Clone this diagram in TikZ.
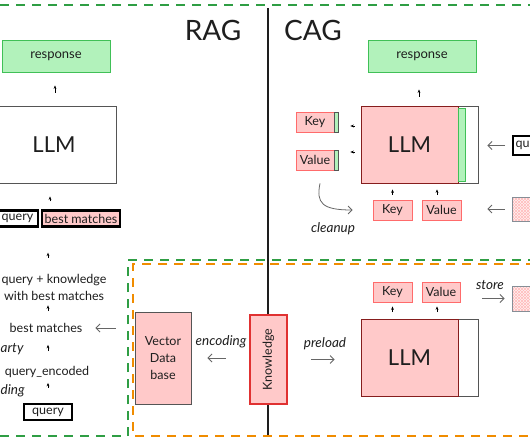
\documentclass[tikz,border=0pt]{standalone}
\usepackage{fontspec}
\setmainfont{Lato}
\usetikzlibrary{arrows.meta,patterns,calc}
\definecolor{pinkfill}{HTML}{FFC9C9}
\definecolor{redline}{HTML}{FF6B6B}
\definecolor{darkred}{HTML}{E03131}
\definecolor{greenfill}{HTML}{B2F2BB}
\definecolor{greenline}{HTML}{40C057}
\definecolor{dashgreen}{HTML}{2F9E44}
\definecolor{dashorange}{HTML}{F08C00}
\definecolor{boxgray}{HTML}{555555}
\definecolor{inkgray}{HTML}{1E1E1E}
\definecolor{arrowgray}{HTML}{666666}
\definecolor{hatchgray}{HTML}{868E96}
\begin{document}
\begin{tikzpicture}[x=1pt,y=-1pt,
  every node/.style={inner sep=0pt, text=inkgray},
  lbl/.style={font=\fontsize{12.5}{17}\selectfont, align=center},
  hand/.style={font=\itshape\fontsize{13.5}{15}\selectfont},
  title/.style={font=\fontsize{28}{30}\selectfont},
  resp/.style={draw=greenline, fill=greenfill, line width=0.9pt, minimum width=108pt, minimum height=32pt, font=\fontsize{13}{15}\selectfont},
  llmbox/.style={draw=boxgray, fill=white, line width=0.9pt, minimum width=117pt, minimum height=77pt},
  llmpink/.style={draw=darkred!60!black, fill=pinkfill, line width=0.8pt, minimum width=97pt, minimum height=77pt, font=\fontsize{22}{24}\selectfont},
  kv/.style={draw=redline, fill=pinkfill, line width=0.8pt, minimum height=20pt, font=\fontsize{12.5}{14}\selectfont},
  strip/.style={draw=boxgray, fill=greenfill, line width=0.7pt},
  qbox/.style={draw=black, line width=2.3pt, fill=white, font=\fontsize{12.5}{14}\selectfont},
  hatch/.style={draw=hatchgray, line width=0.9pt, preaction={fill=pinkfill!25}, preaction={pattern=north east lines, pattern color=redline!45}, preaction={pattern=north west lines, pattern color=redline!45}},
  tiny/.style={-{Stealth[length=3.5pt,width=2.8pt]}, line width=0.7pt, draw=black},
  garrow/.style={-{Straight Barb[length=4pt,width=8pt]}, line width=0.8pt, draw=arrowgray},
  gdash/.style={draw=dashgreen, line width=2.6pt, dash pattern=on 9pt off 7pt},
  odash/.style={draw=dashorange, line width=2.6pt, dash pattern=on 9pt off 7pt},
]
\useasboundingbox (0,0) rectangle (530,442);
\clip (0,0) rectangle (530,442);
\fill[white] (0,0) rectangle (530,442);

% divider
\draw[inkgray, line width=1.2pt] (268,8) -- (268,436);
% dashed frames
\draw[gdash] (0,5) -- (535,5);
\draw[gdash] (0,436) -- (128,436) -- (128,260) -- (535,260);
\draw[odash] (535,264) -- (133,264) -- (133,436) -- (535,436);

% titles
\node[title] (rag) at (213,30) {RAG};
\node[title] (cag) at (313,30) {CAG};

% column coordinates
\coordinate (c1) at (48,0);
\coordinate (c2) at (50,0);
\coordinate (c3) at (55,0);
\coordinate (c4) at (419,0);
\coordinate (c5) at (437,0);
\coordinate (ka) at (355,126);
\coordinate (va) at (355,152);

% ---------- RAG ----------
\node[resp] (respL) at (56,56) {response};
\node[llmbox, minimum width=124pt, font=\fontsize{22}{24}\selectfont] (llmL) at (54,144.5) {LLM};
\node[qbox, minimum width=46pt, minimum height=16pt] (queryL) at (15,218.5) {\hspace*{5pt}query};
\node[qbox, fill=pinkfill, minimum width=78pt, minimum height=16pt] (bestL) at (81,218.5) {best matches};
\node[lbl] (qk) at (54,287) {query + knowledge\\with best matches};
\node[lbl] (bm) at (46,328) {best matches};
\node[lbl] (qe) at (47,372) {query\_encoded};
\node[qbox, minimum width=48pt, minimum height=16pt] (queryB) at (48,412) {query};
\node[hand, anchor=west] (arty) at (0.5,349) {arty};
\node[hand, anchor=west] (ding) at (0.5,391) {ding};

\draw[tiny, shorten <=13pt, shorten >=13pt] (llmL.north -| c3) -- (respL.south -| c3);
\draw[tiny, shorten <=8pt, shorten >=13pt] (bestL.north -| c2) -- (llmL.south -| c2);
\draw[tiny, shorten <=16pt, shorten >=25pt] (qk.north -| c1) -- (bestL.south -| c1);
\draw[tiny, shorten <=12pt, shorten >=5pt] (bm.north -| c1) -- (qk.south -| c1);
\draw[tiny, shorten <=15pt, shorten >=12pt] (qe.north -| c1) -- (bm.south -| c1);
\draw[tiny, shorten <=15pt, shorten >=5pt] (queryB.north -| c1) -- (qe.south -| c1);

% ---------- preload region ----------
\node[draw=boxgray, fill=pinkfill, line width=0.9pt, minimum width=56pt, minimum height=92pt, lbl] (vdb) at (163,358) {Vector\\Data\\base};
\node[draw=darkred, fill=pinkfill, line width=2.5pt, minimum width=37pt, minimum height=89pt] (kn) at (268.5,359.5) {\rotatebox{90}{\fontsize{12.5}{14}\selectfont Knowledge}};
\node[hand] (enc) at (221,342) {encoding};
\node[hand] (pre) at (325,344) {preload};
\node[llmbox] (llmB) at (419.5,357.5) {};
\node[llmpink] (llmBp) at (409.5,357.5) {LLM};
\node[kv, minimum width=39pt] (keyB) at (392.5,292) {Key};
\node[kv, minimum width=38pt] (valB) at (441,292) {Value};
\node[hand] (store) at (490,285) {store};
\node[hatch, minimum width=28pt, minimum height=25pt] (h2) at (526,298.5) {};

\draw[garrow, shorten <=19pt, shorten >=13pt] (vdb.west |- bm.east) -- (bm.east);
\draw[garrow, shorten <=23pt, shorten >=16pt] (kn.west |- vdb.east) -- (vdb.east);
\draw[garrow, shorten <=23pt, shorten >=26pt] (kn.east) -- (kn.east -| llmBp.west);
\draw[garrow, shorten <=22pt, shorten >=7pt] (valB.east |- h2.west) -- (h2.west);
\draw[tiny, shorten <=6.5pt, shorten >=4pt] (llmBp.north -| keyB.south) -- (keyB.south);
\draw[tiny, shorten <=6.5pt, shorten >=4pt] (llmBp.north -| c5) -- (valB.south -| c5);

% ---------- CAG ----------
\node[resp] (respR) at (422,56) {response};
\node[llmbox] (llmR) at (419.5,144.5) {};
\node[llmpink] (llmRp) at (409.5,144.5) {LLM};
\node[strip, draw=greenline, minimum width=7pt, minimum height=73pt] (gs) at (461.5,144.5) {};
\node[kv, minimum width=38pt] (keyL) at (315,122) {Key};
\node[strip, minimum width=4pt, minimum height=20pt] (ks) at (336,122) {};
\node[kv, minimum width=38pt] (valL) at (315,160) {Value};
\node[strip, minimum width=4pt, minimum height=20pt] (vs) at (336,160) {};
\node[kv, minimum width=39pt] (keyR) at (392.5,210) {Key};
\node[kv, minimum width=39pt] (valR) at (441.5,210) {Value};
\node[qbox, anchor=west, minimum height=19pt, minimum width=40pt] (quR) at (512,145.5) {};
\node[anchor=west, font=\fontsize{12.5}{14}\selectfont] (quT) at (515.5,145.5) {qu};
\node[hatch, minimum width=28pt, minimum height=24pt] (h1) at (526,209) {};
\node[hand] (cl) at (333,229) {cleanup};

\draw[tiny, shorten <=9pt, shorten >=17pt] (llmR.north -| c4) -- (respR.south -| c4);
\draw[tiny, shorten <=6pt, shorten >=12pt] (llmRp.west |- ka) -- (ka -| ks.east);
\draw[tiny, shorten <=6pt, shorten >=12pt] (llmRp.west |- va) -- (va -| vs.east);
\draw[tiny, shorten <=5pt, shorten >=6pt] (keyR.north) -- (keyR.north |- llmRp.south);
\draw[tiny, shorten <=5pt, shorten >=6pt] (valR.north -| c5) -- (llmRp.south -| c5);
\draw[garrow, shorten <=7pt, shorten >=9pt] (quR.west) -- (quR.west -| llmR.east);
\draw[garrow, shorten <=7pt, shorten >=26pt] (h1.west) -- (h1.west -| valR.east);
\draw[garrow] ($(valL.south)+(5,13)$) .. controls (316,203) and (322,210) .. ($(keyR.west)+(-20,0)$);
\end{tikzpicture}
\end{document}
